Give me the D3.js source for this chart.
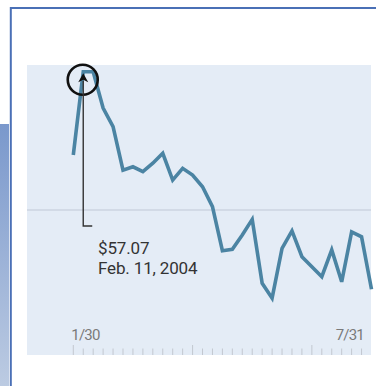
<!DOCTYPE html>
<html>
<head>
<meta charset="utf-8">
<script src="https://cdn.jsdelivr.net/npm/d3@7"></script>
<style>
  html, body { margin: 0; padding: 0; background: #fff; }
  svg { display: block; font-family: Roboto, "Noto Sans", sans-serif; }
</style>
</head>
<body>
<svg id="chart" width="376" height="386"></svg>
<script>
// ---- data ----
const pointIndex = d3.range(31);
const prices = [52.81, 57.07, 57.07, 55.21, 54.26, 52.04, 52.21, 51.96, 52.39, 52.90,
                51.53, 52.13, 51.79, 51.19, 50.17, 47.92, 47.99, 48.72, 49.52, 46.25,
                45.49, 48.04, 48.93, 47.61, 47.10, 46.59, 47.96, 46.33, 48.88, 48.63, 45.95];
const tickLabels = ["1/30", "7/31"];
const majorTicks = [0, 12, 24];
const gridValues = [50];
const peakIndex = 1;
const peakLabel = ["$57.07", "Feb. 11, 2004"];

const svg = d3.select("#chart");

// outer decoration
const grad = svg.append("defs").append("linearGradient")
  .attr("id", "stripGrad").attr("x1", 0).attr("y1", 0).attr("x2", 0).attr("y2", 1);
grad.append("stop").attr("offset", 0).attr("stop-color", "#7a98cc");
grad.append("stop").attr("offset", 1).attr("stop-color", "#bccbe2");
svg.append("rect").attr("x", 0).attr("y", 124).attr("width", 9).attr("height", 262)
  .attr("fill", "url(#stripGrad)");
svg.append("path").attr("d", "M10.8,386 V8 H376")
  .attr("fill", "none").attr("stroke", "#4a70b6").attr("stroke-width", 2);

// plot area
const plot = { left: 27, right: 371, top: 65, bottom: 355 };
svg.append("rect").attr("x", plot.left).attr("y", plot.top)
  .attr("width", plot.right - plot.left).attr("height", plot.bottom - plot.top)
  .attr("fill", "#e4ecf6");

const x = d3.scalePoint().domain(pointIndex).range([73.3, 371.5]);
const y = d3.scaleLinear().domain([50, 57.07]).range([210, 71.7]);

// gridline
svg.selectAll(".grid").data(gridValues).enter().append("line")
  .attr("x1", plot.left).attr("x2", plot.right)
  .attr("y1", d => y(d)).attr("y2", d => y(d))
  .attr("stroke", "#cdd4e0").attr("stroke-width", 1.5);

// ticks
svg.selectAll(".tick").data(pointIndex.slice(0, 30)).enter().append("line")
  .attr("x1", d => x(d)).attr("x2", d => x(d))
  .attr("y1", d => majorTicks.includes(d) ? 345 : 348.5).attr("y2", plot.bottom)
  .attr("stroke", "#c3c8d0").attr("stroke-width", 1);

svg.append("text").attr("x", x(0) - 2).attr("y", 340)
  .attr("font-size", 15).attr("fill", "#7a7a7a").attr("letter-spacing", -0.8)
  .text(tickLabels[0]);
svg.append("text").attr("x", 364).attr("y", 340).attr("text-anchor", "end")
  .attr("font-size", 15).attr("fill", "#7a7a7a").attr("letter-spacing", -0.8)
  .text(tickLabels[1]);

// line
const line = d3.line().x((d, i) => x(pointIndex[i])).y(d => y(d));
svg.append("path").datum(prices).attr("d", line)
  .attr("fill", "none").attr("stroke", "#4b84a3").attr("stroke-width", 3.6)
  .attr("stroke-linejoin", "miter").attr("stroke-linecap", "butt");

// annotation
const px = x(peakIndex), py = y(prices[peakIndex]);
svg.append("circle").attr("cx", px - 0.5).attr("cy", py + 8).attr("r", 15)
  .attr("fill", "none").attr("stroke", "#111").attr("stroke-width", 2.6);
svg.append("path").attr("d", `M${px},${py + 9} V226 H${px + 9}`)
  .attr("fill", "none").attr("stroke", "#333").attr("stroke-width", 1.4);
svg.append("path")
  .attr("d", `M${px},${py + 1.5} L${px + 5},${py + 10.5} L${px},${py + 8} L${px - 5},${py + 10.5} Z`)
  .attr("fill", "#111");

const lbl = svg.append("text").attr("font-size", 17).attr("fill", "#333")
  .attr("letter-spacing", -0.15);
lbl.append("tspan").attr("x", 98).attr("y", 253.5).text(peakLabel[0]);
lbl.append("tspan").attr("x", 98).attr("y", 274).text(peakLabel[1]);
</script>
</body>
</html>
